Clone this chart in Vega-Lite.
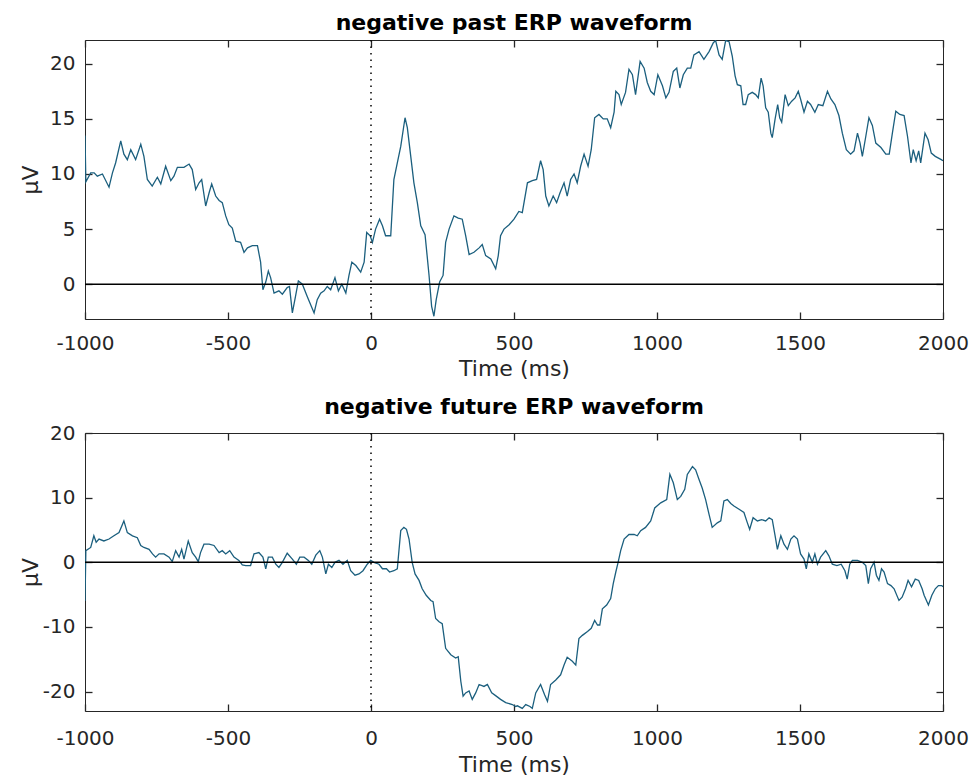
{
  "$schema": "https://vega.github.io/schema/vega-lite/v6.json",
  "padding": {"left": 18, "top": 11, "right": 0, "bottom": 0},
  "background": "white",
  "config": {
    "font": "DejaVu Sans",
    "view": {"stroke": "#262626", "strokeWidth": 1},
    "axis": {"labelFont": "DejaVu Sans", "labelFontSize": 20, "labelColor": "#262626", "titleFont": "DejaVu Sans", "titleFontSize": 22, "titleFontWeight": "normal", "titleColor": "#262626", "ticks": true, "tickColor": "#262626", "tickSize": -7, "tickWidth": 1.3, "domain": false, "grid": false, "zindex": 1},
    "title": {"font": "DejaVu Sans", "fontSize": 22, "fontWeight": "bold", "color": "#000000", "frame": "group", "anchor": "middle", "baseline": "alphabetic", "offset": 4},
    "concat": {"spacing": 15}
  },
  "datasets": {
    "past": [
      {"t":-1000,"v":13.5},{"t":-997,"v":9.3},{"t":-980,"v":10.1},{"t":-968,"v":10.1},{"t":-957,"v":9.8},{"t":-939,"v":10.0},{"t":-916,"v":8.8},{"t":-904,"v":10.1},{"t":-893,"v":11.0},{"t":-875,"v":13.0},{"t":-864,"v":11.8},{"t":-852,"v":11.3},{"t":-840,"v":12.2},{"t":-823,"v":11.3},{"t":-805,"v":12.7},{"t":-794,"v":11.6},{"t":-782,"v":9.5},{"t":-765,"v":8.9},{"t":-747,"v":9.7},{"t":-735,"v":9.1},{"t":-718,"v":10.7},{"t":-700,"v":9.4},{"t":-689,"v":9.8},{"t":-677,"v":10.6},{"t":-654,"v":10.6},{"t":-636,"v":10.9},{"t":-625,"v":10.4},{"t":-613,"v":8.6},{"t":-601,"v":9.2},{"t":-592,"v":9.5},{"t":-578,"v":7.1},{"t":-566,"v":8.3},{"t":-557,"v":9.1},{"t":-543,"v":8.0},{"t":-531,"v":7.6},{"t":-520,"v":7.4},{"t":-508,"v":6.2},{"t":-497,"v":5.4},{"t":-485,"v":5.1},{"t":-473,"v":3.9},{"t":-456,"v":3.8},{"t":-444,"v":2.9},{"t":-432,"v":3.3},{"t":-415,"v":3.5},{"t":-397,"v":3.5},{"t":-386,"v":2.0},{"t":-378,"v":-0.5},{"t":-368,"v":0.2},{"t":-359,"v":1.2},{"t":-351,"v":0.6},{"t":-339,"v":-0.8},{"t":-322,"v":-0.6},{"t":-310,"v":-0.9},{"t":-293,"v":-0.3},{"t":-285,"v":-0.2},{"t":-275,"v":-2.6},{"t":-264,"v":-1.1},{"t":-254,"v":0.3},{"t":-240,"v":0},
      {"t":-223,"v":-1.1},{"t":-199,"v":-2.6},{"t":-188,"v":-1.4},{"t":-176,"v":-0.8},{"t":-164,"v":-0.6},{"t":-153,"v":-0.2},{"t":-141,"v":-0.5},{"t":-126,"v":0.6},{"t":-114,"v":-0.6},{"t":-102,"v":0},{"t":-88,"v":-0.8},{"t":-77,"v":0.8},{"t":-67,"v":2.0},{"t":-53,"v":1.7},{"t":-36,"v":1.1},{"t":-24,"v":2.0},{"t":-15,"v":4.7},{"t":-3,"v":4.4},{"t":5,"v":3.8},{"t":16,"v":5.0},{"t":30,"v":5.9},{"t":40,"v":5.3},{"t":51,"v":4.4},{"t":69,"v":4.4},{"t":80,"v":9.5},{"t":92,"v":11.0},{"t":104,"v":12.5},{"t":119,"v":15.1},{"t":127,"v":14.2},{"t":139,"v":11.6},{"t":150,"v":9.2},{"t":162,"v":7.4},{"t":174,"v":5.3},{"t":189,"v":4.5},{"t":203,"v":0.8},{"t":212,"v":-2.0},{"t":220,"v":-2.9},{"t":228,"v":-1.4},{"t":240,"v":0.2},{"t":252,"v":0.8},{"t":261,"v":3.8},{"t":273,"v":5.0},{"t":290,"v":6.2},{"t":305,"v":6.0},{"t":319,"v":5.9},{"t":331,"v":4.4},{"t":343,"v":2.7},{"t":360,"v":2.9},{"t":378,"v":3.3},{"t":389,"v":3.6},{"t":401,"v":2.6},{"t":419,"v":2.3},{"t":436,"v":1.4},{"t":445,"v":2.6},{"t":453,"v":4.4},{"t":465,"v":5.0},{"t":483,"v":5.4},{"t":500,"v":5.9},
      {"t":517,"v":6.6},{"t":529,"v":6.5},{"t":547,"v":9.2},{"t":564,"v":9.4},{"t":579,"v":9.5},{"t":593,"v":11.2},{"t":602,"v":10.4},{"t":611,"v":8.0},{"t":622,"v":7.1},{"t":637,"v":8.0},{"t":649,"v":7.4},{"t":661,"v":8.3},{"t":675,"v":9.2},{"t":686,"v":8.0},{"t":698,"v":9.5},{"t":710,"v":10.0},{"t":721,"v":9.2},{"t":733,"v":10.7},{"t":745,"v":11.8},{"t":759,"v":10.7},{"t":770,"v":12.2},{"t":782,"v":15.1},{"t":797,"v":15.4},{"t":812,"v":15.0},{"t":826,"v":15.0},{"t":838,"v":14.2},{"t":850,"v":15.6},{"t":856,"v":17.5},{"t":867,"v":17.2},{"t":875,"v":16.3},{"t":890,"v":17.4},{"t":902,"v":19.5},{"t":914,"v":19.0},{"t":925,"v":17.2},{"t":941,"v":20.2},{"t":955,"v":19.6},{"t":966,"v":18.3},{"t":978,"v":17.5},{"t":990,"v":17.2},{"t":1003,"v":19.0},{"t":1019,"v":18.0},{"t":1031,"v":16.9},{"t":1042,"v":17.4},{"t":1057,"v":19.3},{"t":1069,"v":19.6},{"t":1080,"v":17.8},{"t":1092,"v":19.0},{"t":1106,"v":19.6},{"t":1118,"v":19.6},{"t":1129,"v":20.8},{"t":1147,"v":21.1},{"t":1164,"v":20.4},{"t":1182,"v":21.1},{"t":1197,"v":21.9},{"t":1205,"v":22.1},{"t":1217,"v":20.8},{"t":1228,"v":20.4},{"t":1240,"v":22.1},{"t":1252,"v":22.0},
      {"t":1263,"v":20.7},{"t":1273,"v":18.9},{"t":1281,"v":18.1},{"t":1293,"v":18.0},{"t":1301,"v":16.3},{"t":1310,"v":16.3},{"t":1319,"v":17.2},{"t":1333,"v":17.4},{"t":1345,"v":17.2},{"t":1354,"v":16.9},{"t":1364,"v":18.7},{"t":1371,"v":18.0},{"t":1380,"v":16.0},{"t":1389,"v":15.6},{"t":1398,"v":13.7},{"t":1403,"v":13.3},{"t":1413,"v":15.0},{"t":1422,"v":16.3},{"t":1429,"v":15.1},{"t":1436,"v":14.7},{"t":1448,"v":17.2},{"t":1459,"v":16.2},{"t":1471,"v":16.6},{"t":1483,"v":16.9},{"t":1494,"v":17.5},{"t":1502,"v":16.8},{"t":1514,"v":15.6},{"t":1526,"v":16.6},{"t":1537,"v":16.3},{"t":1552,"v":15.6},{"t":1564,"v":16.3},{"t":1580,"v":16.2},{"t":1596,"v":17.5},{"t":1608,"v":16.8},{"t":1622,"v":16.3},{"t":1636,"v":15.3},{"t":1648,"v":13.7},{"t":1662,"v":12.2},{"t":1677,"v":11.8},{"t":1689,"v":12.1},{"t":1701,"v":13.7},{"t":1710,"v":12.8},{"t":1718,"v":11.6},{"t":1730,"v":13.4},{"t":1741,"v":15.1},{"t":1753,"v":14.4},{"t":1765,"v":12.8},{"t":1783,"v":12.4},{"t":1800,"v":11.8},{"t":1812,"v":11.8},{"t":1823,"v":13.7},{"t":1835,"v":15.7},{"t":1849,"v":15.4},{"t":1864,"v":15.3},{"t":1876,"v":13.4},{"t":1888,"v":11.0},{"t":1896,"v":12.2},{"t":1906,"v":11.2},{"t":1915,"v":12.1},{"t":1922,"v":11.0},{"t":1937,"v":13.7},{"t":1948,"v":13.1},{"t":1959,"v":11.9},{"t":1973,"v":11.6},{"t":1994,"v":11.3},{"t":2000,"v":11.2}
    ],
    "future": [
      {"t":-1000,"v":-6},{"t":-997,"v":1.8},{"t":-980,"v":2.3},{"t":-969,"v":4.1},{"t":-961,"v":3.1},{"t":-951,"v":3.6},{"t":-934,"v":3.3},{"t":-916,"v":3.6},{"t":-899,"v":4.1},{"t":-881,"v":4.6},{"t":-864,"v":6.4},{"t":-852,"v":4.6},{"t":-834,"v":4.1},{"t":-817,"v":3.8},{"t":-805,"v":2.6},{"t":-794,"v":2.3},{"t":-776,"v":2.0},{"t":-764,"v":1.3},{"t":-753,"v":0.8},{"t":-741,"v":1.3},{"t":-724,"v":1.3},{"t":-706,"v":0.8},{"t":-695,"v":0.1},{"t":-683,"v":1.8},{"t":-671,"v":0.8},{"t":-662,"v":2.0},{"t":-654,"v":0.5},{"t":-639,"v":3.3},{"t":-625,"v":1.5},{"t":-613,"v":0.8},{"t":-604,"v":0.1},{"t":-596,"v":1.5},{"t":-584,"v":2.8},{"t":-566,"v":2.8},{"t":-549,"v":2.6},{"t":-531,"v":1.5},{"t":-520,"v":1.8},{"t":-508,"v":1.3},{"t":-494,"v":1.8},{"t":-479,"v":0.8},{"t":-462,"v":0.3},{"t":-450,"v":-0.4},{"t":-438,"v":-0.5},{"t":-421,"v":-0.5},{"t":-409,"v":1.3},{"t":-392,"v":1.5},{"t":-378,"v":0.8},{"t":-368,"v":-1.0},{"t":-359,"v":0.8},{"t":-345,"v":0.8},{"t":-333,"v":-0.3},{"t":-322,"v":-0.8},{"t":-310,"v":0},{"t":-293,"v":1.4},{"t":-275,"v":0.5},{"t":-261,"v":-0.3},{"t":-249,"v":0.8},
      {"t":-234,"v":0.8},{"t":-219,"v":0.3},{"t":-207,"v":-0.3},{"t":-193,"v":1.1},{"t":-179,"v":1.8},{"t":-170,"v":0.8},{"t":-158,"v":-1.8},{"t":-149,"v":-0.3},{"t":-137,"v":-0.8},{"t":-126,"v":0},{"t":-112,"v":0.3},{"t":-98,"v":-0.3},{"t":-83,"v":0.3},{"t":-71,"v":-1.3},{"t":-56,"v":-2.0},{"t":-42,"v":-1.8},{"t":-28,"v":-1.3},{"t":-13,"v":-0.3},{"t":-1,"v":0.3},{"t":10,"v":0},{"t":28,"v":-0.3},{"t":40,"v":-1.0},{"t":54,"v":-1.0},{"t":65,"v":-1.5},{"t":80,"v":-1.3},{"t":92,"v":-1.0},{"t":104,"v":4.9},{"t":115,"v":5.4},{"t":124,"v":5.1},{"t":133,"v":3.6},{"t":144,"v":0},{"t":154,"v":-1.8},{"t":168,"v":-2.8},{"t":179,"v":-4.1},{"t":193,"v":-5.1},{"t":209,"v":-5.9},{"t":217,"v":-6.1},{"t":226,"v":-8.7},{"t":238,"v":-9.2},{"t":249,"v":-9.5},{"t":261,"v":-13.3},{"t":279,"v":-14.3},{"t":296,"v":-14.8},{"t":305,"v":-14.6},{"t":314,"v":-18.4},{"t":322,"v":-20.7},{"t":331,"v":-20.2},{"t":343,"v":-19.9},{"t":354,"v":-21.2},{"t":366,"v":-20.2},{"t":378,"v":-18.9},{"t":395,"v":-19.2},{"t":407,"v":-18.9},{"t":422,"v":-20.2},{"t":438,"v":-20.7},{"t":453,"v":-21.2},{"t":471,"v":-21.7},{"t":494,"v":-22.0},{"t":506,"v":-22.3},
      {"t":512,"v":-22.2},{"t":529,"v":-22.6},{"t":541,"v":-22.0},{"t":556,"v":-22.3},{"t":564,"v":-22.6},{"t":576,"v":-20.2},{"t":593,"v":-18.9},{"t":607,"v":-20.5},{"t":617,"v":-21.5},{"t":628,"v":-18.9},{"t":646,"v":-18.2},{"t":663,"v":-17.4},{"t":675,"v":-15.9},{"t":686,"v":-14.7},{"t":704,"v":-15.3},{"t":716,"v":-15.9},{"t":727,"v":-11.8},{"t":739,"v":-11.3},{"t":757,"v":-10.7},{"t":770,"v":-10.2},{"t":782,"v":-9.0},{"t":792,"v":-9.7},{"t":800,"v":-9.7},{"t":809,"v":-7.2},{"t":824,"v":-6.6},{"t":838,"v":-5.6},{"t":847,"v":-3.3},{"t":856,"v":-1.5},{"t":864,"v":0},{"t":873,"v":1.8},{"t":885,"v":3.6},{"t":902,"v":4.3},{"t":920,"v":4.3},{"t":931,"v":4.1},{"t":943,"v":4.9},{"t":960,"v":5.4},{"t":978,"v":6.4},{"t":992,"v":8.4},{"t":1013,"v":9.2},{"t":1034,"v":9.7},{"t":1045,"v":13.6},{"t":1057,"v":12.3},{"t":1071,"v":9.7},{"t":1083,"v":10.2},{"t":1097,"v":11.3},{"t":1106,"v":13.6},{"t":1124,"v":14.8},{"t":1135,"v":14.3},{"t":1147,"v":12.8},{"t":1158,"v":11.5},{"t":1170,"v":9.7},{"t":1182,"v":7.4},{"t":1193,"v":5.4},{"t":1211,"v":6.1},{"t":1223,"v":6.4},{"t":1234,"v":9.5},{"t":1246,"v":9.7},
      {"t":1258,"v":9.1},{"t":1269,"v":8.7},{"t":1287,"v":8.2},{"t":1304,"v":7.7},{"t":1316,"v":6.1},{"t":1324,"v":5.1},{"t":1336,"v":6.9},{"t":1351,"v":6.4},{"t":1366,"v":6.6},{"t":1380,"v":6.4},{"t":1392,"v":6.9},{"t":1403,"v":6.6},{"t":1413,"v":4.1},{"t":1421,"v":2.0},{"t":1433,"v":4.1},{"t":1444,"v":2.8},{"t":1456,"v":2.0},{"t":1468,"v":3.6},{"t":1479,"v":4.1},{"t":1491,"v":3.6},{"t":1502,"v":1.3},{"t":1514,"v":0.5},{"t":1522,"v":-1.0},{"t":1531,"v":1.3},{"t":1543,"v":0},{"t":1552,"v":1.3},{"t":1561,"v":-0.3},{"t":1572,"v":0.8},{"t":1590,"v":1.8},{"t":1601,"v":1.0},{"t":1613,"v":-0.3},{"t":1629,"v":-0.5},{"t":1644,"v":-0.3},{"t":1657,"v":-1.3},{"t":1665,"v":-2.6},{"t":1674,"v":-0.3},{"t":1683,"v":0.3},{"t":1701,"v":0.3},{"t":1718,"v":0},{"t":1730,"v":-0.5},{"t":1739,"v":-3.3},{"t":1747,"v":-1.0},{"t":1759,"v":0},{"t":1767,"v":-2.0},{"t":1776,"v":-2.8},{"t":1785,"v":-1.0},{"t":1794,"v":-1.5},{"t":1806,"v":-3.3},{"t":1818,"v":-3.6},{"t":1829,"v":-4.1},{"t":1846,"v":-5.9},{"t":1857,"v":-5.4},{"t":1869,"v":-4.1},{"t":1878,"v":-2.8},{"t":1890,"v":-3.8},{"t":1903,"v":-2.6},{"t":1915,"v":-2.8},{"t":1927,"v":-4.1},{"t":1934,"v":-5.1},{"t":1949,"v":-6.6},{"t":1961,"v":-5.1},{"t":1973,"v":-4.1},{"t":1984,"v":-3.6},{"t":1996,"v":-3.6},{"t":2000,"v":-3.8}
    ]
  },
  "vconcat": [
    {
      "title": "negative past ERP waveform",
      "width": 858,
      "height": 279,
      "layer": [
        {
          "data": {"name": "past"},
          "mark": {"type": "line", "color": "#1b5f7e", "strokeWidth": 1.3, "clip": true},
          "encoding": {
            "x": {"field": "t", "type": "quantitative", "scale": {"domain": [-1000, 2000], "nice": false, "zero": false},
                  "axis": {"orient": "bottom", "values": [-1000, -500, 0, 500, 1000, 1500, 2000], "title": "Time (ms)", "labelPadding": 21, "titlePadding": 5, "labelFlush": false, "labelExpr": "datum.value < 0 ? '-' + abs(datum.value) : '' + datum.value"}},
            "y": {"field": "v", "type": "quantitative", "scale": {"domain": [-3.15, 22.15], "nice": false, "zero": false},
                  "axis": {"orient": "left", "values": [0, 5, 10, 15, 20], "title": "μV", "labelPadding": 17, "titleX": -55, "titleBaseline": "middle"}}
          }
        },
        {
          "data": {"values": [{}]},
          "mark": {"type": "rule", "color": "#000000", "strokeWidth": 1.5},
          "encoding": {
            "y": {"datum": 0, "type": "quantitative", "scale": {"domain": [-3.15, 22.15], "nice": false, "zero": false},
                  "axis": {"orient": "right", "values": [0, 5, 10, 15, 20], "labels": false, "title": null}}
          }
        },
        {
          "data": {"values": [{}]},
          "mark": {"type": "rule", "color": "#000000", "strokeWidth": 1.5, "strokeDash": [1.5, 5]},
          "encoding": {
            "x": {"datum": 0, "type": "quantitative", "scale": {"domain": [-1000, 2000], "nice": false, "zero": false},
                  "axis": {"orient": "top", "values": [-1000, -500, 0, 500, 1000, 1500, 2000], "labels": false, "title": null}}
          }
        }
      ],
      "resolve": {"axis": {"x": "independent", "y": "independent"}}
    },
    {
      "title": "negative future ERP waveform",
      "width": 858,
      "height": 278,
      "layer": [
        {
          "data": {"name": "future"},
          "mark": {"type": "line", "color": "#1b5f7e", "strokeWidth": 1.3, "clip": true},
          "encoding": {
            "x": {"field": "t", "type": "quantitative", "scale": {"domain": [-1000, 2000], "nice": false, "zero": false},
                  "axis": {"orient": "bottom", "values": [-1000, -500, 0, 500, 1000, 1500, 2000], "title": "Time (ms)", "labelPadding": 24, "titlePadding": 6, "labelFlush": false, "labelExpr": "datum.value < 0 ? '-' + abs(datum.value) : '' + datum.value"}},
            "y": {"field": "v", "type": "quantitative", "scale": {"domain": [-23, 20], "nice": false, "zero": false},
                  "axis": {"orient": "left", "values": [-20, -10, 0, 10, 20], "title": "μV", "labelPadding": 17, "titleX": -55, "titleBaseline": "middle", "labelExpr": "datum.value < 0 ? '-' + abs(datum.value) : '' + datum.value"}}
          }
        },
        {
          "data": {"values": [{}]},
          "mark": {"type": "rule", "color": "#000000", "strokeWidth": 1.5},
          "encoding": {
            "y": {"datum": 0, "type": "quantitative", "scale": {"domain": [-23, 20], "nice": false, "zero": false},
                  "axis": {"orient": "right", "values": [-20, -10, 0, 10, 20], "labels": false, "title": null}}
          }
        },
        {
          "data": {"values": [{}]},
          "mark": {"type": "rule", "color": "#000000", "strokeWidth": 1.5, "strokeDash": [1.5, 5]},
          "encoding": {
            "x": {"datum": 0, "type": "quantitative", "scale": {"domain": [-1000, 2000], "nice": false, "zero": false},
                  "axis": {"orient": "top", "values": [-1000, -500, 0, 500, 1000, 1500, 2000], "labels": false, "title": null}}
          }
        }
      ],
      "resolve": {"axis": {"x": "independent", "y": "independent"}}
    }
  ]
}
